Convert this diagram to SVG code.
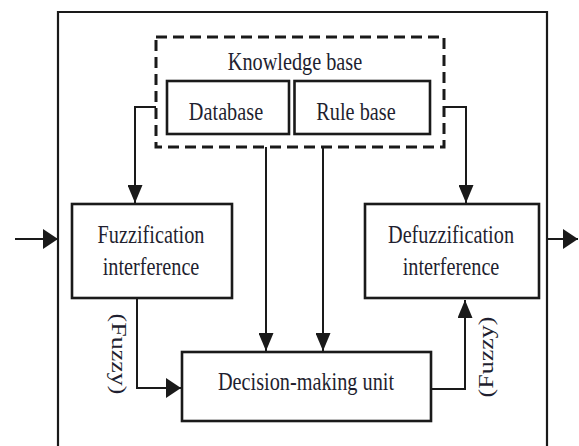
<svg xmlns="http://www.w3.org/2000/svg" width="579" height="446" viewBox="0 0 579 446">
<defs>
<style>
.box{fill:#fff;stroke:#1a1a1a;stroke-width:2.6}
.dash{fill:none;stroke:#1a1a1a;stroke-width:3;stroke-dasharray:11 6}
.frame{fill:none;stroke:#1a1a1a;stroke-width:2.2}
.wire{fill:none;stroke:#1a1a1a;stroke-width:2}
.lbl{font-family:"Liberation Serif","Times New Roman",serif;font-size:26px;fill:#1f1f30;text-anchor:middle}
</style>
<marker id="ah-h" viewBox="0 0 15 20" refX="15" refY="10" markerWidth="15" markerHeight="20" markerUnits="userSpaceOnUse" orient="auto">
<path d="M0,0 L15,10 L0,20 Z" fill="#1a1a1a"/>
</marker>
<marker id="ah-v" viewBox="0 0 18 15" refX="18" refY="7.5" markerWidth="18" markerHeight="15" markerUnits="userSpaceOnUse" orient="auto">
<path d="M0,0 L18,7.5 L0,15 Z" fill="#1a1a1a"/>
</marker>
</defs>
<rect width="579" height="446" fill="#fff"/>
<path class="frame" d="M58,446 V12 H547 V446"/>

<g id="knowledge-base">
<rect class="dash" x="156" y="37" width="288" height="110"/>
<text class="lbl" transform="translate(295,70) scale(0.78,1)">Knowledge base</text>
</g>
<g id="database">
<rect class="box" x="167" y="81" width="122" height="53"/>
<text class="lbl" transform="translate(226,120) scale(0.78,1)">Database</text>
</g>
<g id="rule-base">
<rect class="box" x="294.5" y="81" width="135.5" height="53"/>
<text class="lbl" transform="translate(356,120) scale(0.78,1)">Rule base</text>
</g>
<g id="fuzzification">
<rect class="box" x="72" y="204" width="160" height="94"/>
<text class="lbl" transform="translate(151,243) scale(0.78,1)">Fuzzification</text>
<text class="lbl" transform="translate(151,275) scale(0.78,1)">interference</text>
</g>
<g id="defuzzification">
<rect class="box" x="365" y="204" width="174" height="94"/>
<text class="lbl" transform="translate(451,243) scale(0.78,1)">Defuzzification</text>
<text class="lbl" transform="translate(451,275) scale(0.78,1)">interference</text>
</g>
<g id="decision">
<rect class="box" x="182" y="352" width="249" height="69"/>
<text class="lbl" transform="translate(306,390) scale(0.78,1)">Decision-making unit</text>
</g>

<g id="connectors">
<line class="wire" x1="15" y1="239" x2="58" y2="239" marker-end="url(#ah-h)"/>
<line class="wire" x1="547" y1="239" x2="578" y2="239" marker-end="url(#ah-h)"/>
<polyline class="wire" points="156,107 135,107 135,203" marker-end="url(#ah-v)"/>
<polyline class="wire" points="444,107 466,107 466,203" marker-end="url(#ah-v)"/>
<line class="wire" x1="266" y1="147" x2="266" y2="351" marker-end="url(#ah-v)"/>
<line class="wire" x1="323" y1="147" x2="323" y2="351" marker-end="url(#ah-v)"/>
<polyline class="wire" points="137,298 137,388 181,388" marker-end="url(#ah-h)"/>
<polyline class="wire" points="431,389 465,389 465,300" marker-end="url(#ah-v)"/>
<text class="lbl" dominant-baseline="central" transform="translate(118.5,354) scale(0.78,1) rotate(90)">(Fuzzy)</text>
<text class="lbl" dominant-baseline="central" transform="translate(486,357) scale(0.78,1) rotate(-90)">(Fuzzy)</text>
</g>
</svg>
